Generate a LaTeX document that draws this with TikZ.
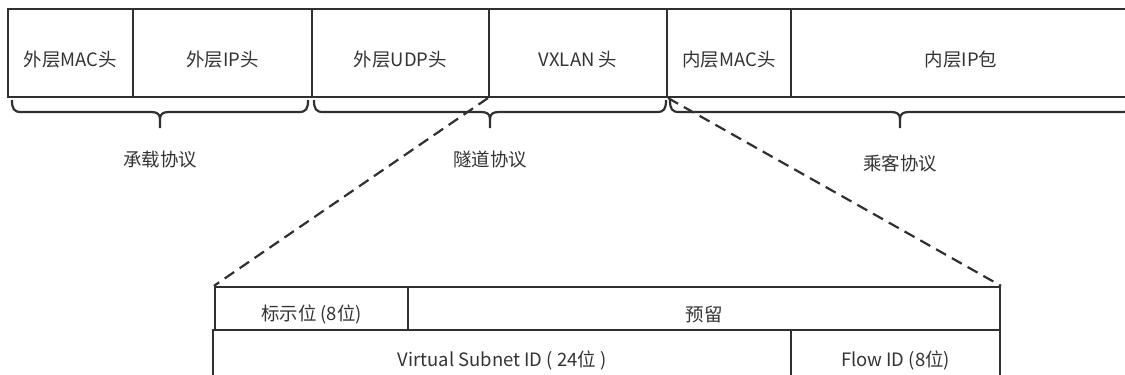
\documentclass[tikz,border=0pt]{standalone}
\usepackage{fontspec}
\newfontfamily\cjk{Noto Sans CJK SC}
\usetikzlibrary{fit}
\definecolor{ln}{HTML}{303030}
\definecolor{tx}{HTML}{333333}
\tikzset{
  field/.style={draw=ln, line width=1.25pt, inner sep=0pt},
  lbl/.style={text=tx, font=\cjk\fontsize{10.5}{12}\selectfont, inner sep=0pt},
  fieldtext/.style={lbl, yshift=-3.5pt},
  br/.style={draw=ln, line width=1.25pt},
  zoomline/.style={draw=ln, line width=1.25pt, dash pattern=on 6.5pt off 3.8pt}
}
\newcommand\mybrace[3]{%
  \draw[br] (#1,100) .. controls (#1,109) and ({#1+2},112) .. ({#1+9},112) -- ({#3-9},112) .. controls ({#3-3},112) and (#3,114) .. (#3,119) -- (#3,128);
  \draw[br] (#2,100) .. controls (#2,109) and ({#2-2},112) .. ({#2-9},112) -- ({#3+9},112) .. controls ({#3+3},112) and (#3,114) .. (#3,119);
}
\begin{document}
\begin{tikzpicture}[x=0.02cm,y=-0.02cm]
\useasboundingbox (0,0) rectangle (1125,375);
% top row
\node[field, fit={(8,9)(133,97)}, label={[fieldtext]center:外层MAC头}] (f1) {};
\node[field, fit={(133,9)(312,97)}, label={[fieldtext]center:外层IP头}] (f2) {};
\node[field, fit={(312,9)(489,97)}, label={[fieldtext]center:外层UDP头}] (f3) {};
\node[field, fit={(489,9)(667,97)}, label={[fieldtext]center:VXLAN 头}] (f4) {};
\node[field, fit={(667,9)(791,97)}, label={[fieldtext]center:内层MAC头}] (f5) {};
\node[field, fit={(791,9)(1131,97)}, label={[fieldtext]center:内层IP包}] (f6) {};
% braces
\mybrace{12}{308}{160}
\mybrace{314}{666}{490}
\mybrace{670}{1131}{900}
\node[lbl] (l1) at (160,160) {承载协议};
\node[lbl] (l2) at (490,160) {隧道协议};
\node[lbl] (l3) at (900,163) {乘客协议};
% bottom block
\node[field, fit={(215,287)(408,330)}, label={[fieldtext]center:标示位 (8位)}] (b1) {};
\node[field, fit={(408,287)(1000,330)}, label={[fieldtext]center:预留}] (b2) {};
\node[field, fit={(213,330)(791,378)}, label={[fieldtext]center:Virtual Subnet ID ( 24位 )}] (b3) {};
\node[field, fit={(791,330)(1000,378)}, label={[fieldtext]center:Flow ID (8位)}] (b4) {};
% zoom lines
\draw[zoomline] (f4.south west) -- (b1.north west);
\draw[zoomline] (f4.south east) -- (b2.north east);
\end{tikzpicture}
\end{document}
